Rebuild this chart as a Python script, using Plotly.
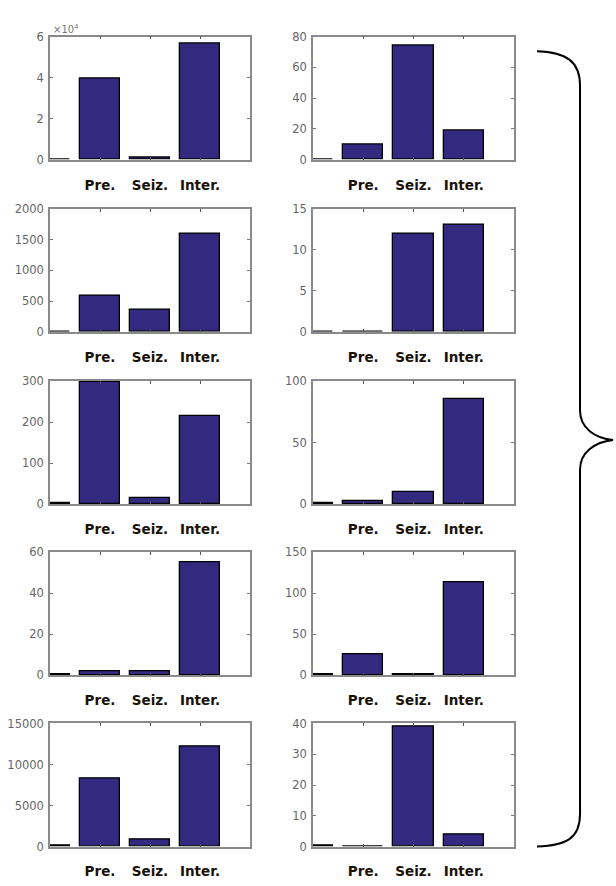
import plotly.graph_objects as go

# 막대 위치: 0번 막대는 축 왼쪽 끝에 걸쳐 반쯤 잘려 보인다.
BAR_POS = [0, 1, 2, 3]
TICK_POS = [1, 2, 3]
TICK_TEXT = ["Pre.", "Seiz.", "Inter."]

# 왼쪽 열 (위에서 아래로)
L1_VALUES = [0, 39400, 900, 56400]
L2_VALUES = [0, 592, 354, 1598]
L3_VALUES = [2, 298, 14, 215]
L4_VALUES = [0.5, 1.8, 1.8, 55.2]
L5_VALUES = [150, 8250, 870, 12200]

# 오른쪽 열 (위에서 아래로)
R1_VALUES = [0, 9.7, 74.2, 18.9]
R2_VALUES = [0.05, 0.05, 12.0, 13.0]
R3_VALUES = [0.5, 2.2, 10, 85]
R4_VALUES = [1, 26, 1, 113]
R5_VALUES = [0.2, 0, 39, 3.9]

L1_TICKS = [0, 20000, 40000, 60000]
L1_TICKTEXT = ["0", "2", "4", "6"]
L2_TICKS = [0, 500, 1000, 1500, 2000]
L3_TICKS = [0, 100, 200, 300]
L4_TICKS = [0, 20, 40, 60]
L5_TICKS = [0, 5000, 10000, 15000]
R1_TICKS = [0, 20, 40, 60, 80]
R2_TICKS = [0, 5, 10, 15]
R3_TICKS = [0, 50, 100]
R4_TICKS = [0, 50, 100, 150]
R5_TICKS = [0, 10, 20, 30, 40]

W, H = 616, 886
BAR_COLOR = "#33297f"
AXIS_COLOR = "#8a8a8a"

panels = [
    (L1_VALUES, L1_TICKS, L1_TICKTEXT, 0, 0),
    (R1_VALUES, R1_TICKS, None, 1, 0),
    (L2_VALUES, L2_TICKS, None, 0, 1),
    (R2_VALUES, R2_TICKS, None, 1, 1),
    (L3_VALUES, L3_TICKS, None, 0, 2),
    (R3_VALUES, R3_TICKS, None, 1, 2),
    (L4_VALUES, L4_TICKS, None, 0, 3),
    (R4_VALUES, R4_TICKS, None, 1, 3),
    (L5_VALUES, L5_TICKS, None, 0, 4),
    (R5_VALUES, R5_TICKS, None, 1, 4),
]

# 픽셀 기준 축 위치
COL_X = [(50, 250), (313, 514)]
ROW_TOP = [30, 205, 380, 554, 728]
AX_H = 125

fig = go.Figure()
layout = {}
for i, (values, ticks, ticktext, col, row) in enumerate(panels):
    n = "" if i == 0 else str(i + 1)
    fig.add_trace(go.Bar(
        x=BAR_POS, y=values, width=0.8,
        marker=dict(color=BAR_COLOR, line=dict(color="black", width=1.3)),
        xaxis="x" + n, yaxis="y" + n, showlegend=False,
    ))
    x0, x1 = COL_X[col]
    top = ROW_TOP[row]
    layout["xaxis" + n] = dict(
        domain=[x0 / W, x1 / W], anchor="y" + n, range=[0, 4],
        tickvals=TICK_POS, ticktext=TICK_TEXT,
        ticks="inside", ticklen=3, tickcolor="#555", mirror="ticks",
        showline=True, linecolor=AXIS_COLOR, linewidth=1.5,
        showgrid=False, zeroline=False, ticklabelstandoff=12,
        tickfont=dict(family="DejaVu Sans", size=13.5, color="#1a1208",
                      weight="bold"),
    )
    layout["yaxis" + n] = dict(
        domain=[1 - (top + AX_H) / H, 1 - top / H], anchor="x" + n,
        range=[0, ticks[-1]], tickvals=ticks,
        ticktext=ticktext if ticktext else [str(t) for t in ticks],
        ticks="inside", ticklen=3, tickcolor="#777", mirror="ticks",
        showline=True, linecolor=AXIS_COLOR, linewidth=1.5,
        showgrid=False, zeroline=False, ticklabelstandoff=2,
        tickfont=dict(family="DejaVu Sans", size=11.5, color="#666"),
    )


def px(x, y):
    return f"{x / W:.4f},{1 - y / H:.4f}"


# 오른쪽 중괄호
brace = (
    f"M {px(537, 45)} C {px(566, 46)} {px(580, 55)} {px(580, 80)} "
    f"L {px(580, 410)} C {px(580, 428)} {px(595, 438)} {px(613, 440)} "
    f"C {px(595, 442)} {px(580, 452)} {px(580, 470)} "
    f"L {px(580, 820)} C {px(580, 845)} {px(566, 852)} {px(537, 853)}"
)

fig.update_layout(
    width=W, height=H,
    margin=dict(l=0, r=0, t=0, b=0),
    paper_bgcolor="white", plot_bgcolor="white",
    bargap=0,
    shapes=[dict(type="path", path=brace, xref="paper", yref="paper",
                 line=dict(color="black", width=2))],
    annotations=[dict(text="×10<sup>4</sup>", x=51 / W, y=1 - 22 / H,
                      xref="paper", yref="paper", xanchor="left", yanchor="middle",
                      showarrow=False,
                      font=dict(family="DejaVu Sans", size=10, color="#777"))],
    **layout,
)

# 본문 여백을 없애 616x886 창에 딱 맞춘다.
fig.write_html(
    "out.html",
    config={"displayModeBar": False},
    post_script="document.body.style.margin='0';document.body.style.overflow='hidden';",
)
